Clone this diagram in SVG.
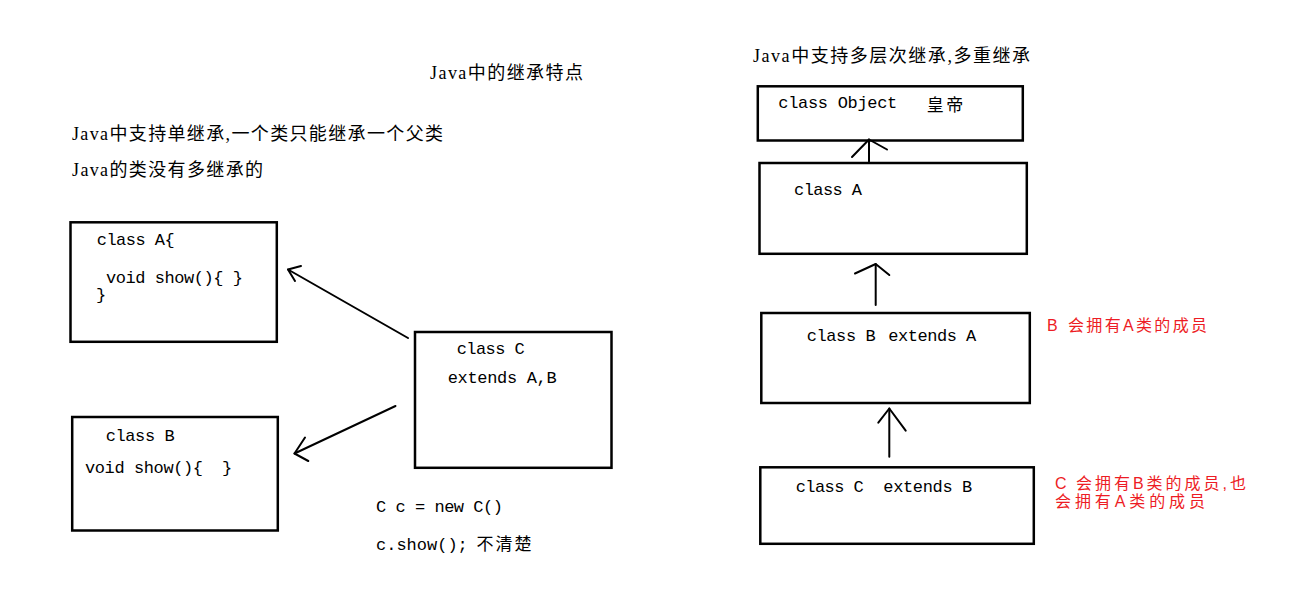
<svg xmlns="http://www.w3.org/2000/svg" width="1299" height="603" viewBox="0 0 1299 603">
<style>
.box{fill:#fff;stroke:#000;stroke-width:2.5}
.code{font-family:"Liberation Mono","Noto Sans CJK SC",monospace;font-size:17px;fill:#000}
.cn{font-family:"Liberation Serif","Noto Sans CJK SC",serif;font-size:18px;fill:#000}
.red{font-family:"Liberation Sans","Noto Sans CJK SC",sans-serif;font-size:16px;fill:#ED1C24}
.conn{fill:none;stroke:#000;stroke-width:2;stroke-linecap:round;stroke-linejoin:round}
</style>
<rect width="1299" height="603" fill="#fff"/>

<g id="notes">
<text class="cn" x="430" y="79" textLength="153">Java中的继承特点</text>
<text class="cn" x="72" y="140" textLength="371">Java中支持单继承,一个类只能继承一个父类</text>
<text class="cn" x="72" y="176" textLength="191">Java的类没有多继承的</text>
<text class="cn" x="753" y="61.5" textLength="277">Java中支持多层次继承,多重继承</text>
<text class="code" x="376" y="512" textLength="127">C c = new C()</text>
<text class="code" x="376" y="550"><tspan>c.show();</tspan><tspan x="476.5" textLength="55">不清楚</tspan></text>
<text class="red" x="1047" y="330.5"><tspan>B</tspan><tspan x="1068" textLength="139">会拥有A类的成员</tspan></text>
<text class="red" x="1055" y="488.5"><tspan>C</tspan><tspan x="1076" textLength="170">会拥有B类的成员,也</tspan><tspan x="1055" y="507" textLength="150">会拥有A类的成员</tspan></text>
</g>

<g id="nodeLeftA">
<rect class="box" x="70.5" y="222.3" width="206.3" height="119.5"/>
<text class="code" x="96.7" y="245" textLength="78">class A{</text>
<text class="code" x="106" y="283" textLength="137">void show(){ }</text>
<text class="code" x="96" y="299.5">}</text>
</g>

<g id="nodeLeftB">
<rect class="box" x="72.2" y="417" width="205.6" height="113.5"/>
<text class="code" x="105.7" y="440.7" textLength="69">class B</text>
<text class="code" x="85" y="472.5"><tspan textLength="118">void show(){</tspan><tspan x="222">}</tspan></text>
</g>

<g id="nodeLeftC">
<rect class="box" x="415" y="332" width="196.5" height="135.8"/>
<text class="code" x="456.7" y="354" textLength="68">class C</text>
<text class="code" x="447.7" y="383" textLength="109">extends A,B</text>
</g>

<g id="nodeObject">
<rect class="box" x="757.8" y="86.3" width="265" height="54.2"/>
<text class="code" x="778.3" y="108" textLength="119">class Object</text>
<text class="code" x="926.7" y="111" textLength="36.6">皇帝</text>
</g>

<g id="nodeA">
<rect class="box" x="759.5" y="163" width="267.3" height="90.8"/>
<text class="code" x="794" y="195" textLength="68">class A</text>
</g>

<g id="nodeB">
<rect class="box" x="761.3" y="313" width="268.5" height="90"/>
<text class="code" x="806.7" y="341" textLength="69">class B</text>
<text class="code" x="888.3" y="341" textLength="88">extends A</text>
</g>

<g id="nodeC">
<rect class="box" x="760.3" y="467.3" width="273.5" height="76.5"/>
<text class="code" x="795.7" y="492.3" textLength="68">class C</text>
<text class="code" x="883.3" y="492.3" textLength="89">extends B</text>
</g>

<g id="connectors">
<line class="conn" x1="408" y1="338" x2="288" y2="269.5"/>
<polyline class="conn" points="301,266 288,269.5 295,281"/>
<line class="conn" x1="395.5" y1="406" x2="294.5" y2="453.5"/>
<polyline class="conn" points="305,437.5 294.5,453.5 308.3,461"/>
<line class="conn" x1="869" y1="161.5" x2="869" y2="139.5"/>
<polyline class="conn" points="852,157 869,139.5 887,149.5"/>
<line class="conn" x1="875.7" y1="305" x2="875.7" y2="264"/>
<polyline class="conn" points="855,273.5 875.7,264 889.3,275"/>
<line class="conn" x1="889.3" y1="456.7" x2="889.3" y2="408.5"/>
<polyline class="conn" points="878.3,422.7 889.3,408.5 905.7,430.7"/>
</g>
</svg>
